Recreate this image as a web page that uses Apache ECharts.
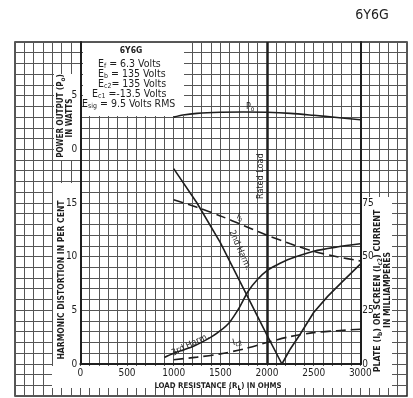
<!DOCTYPE html>
<html><head><meta charset="utf-8">
<script src="https://cdn.jsdelivr.net/npm/echarts@6/dist/echarts.min.js"></script>
<style>html,body{margin:0;padding:0;background:#fff}#c{width:413px;height:398px}</style>
</head><body><div id="c"></div>
<script>
// ---------------- data ----------------
const poOhms  = [1000,1100,1250,1500,1750,2000,2250,2500,2750,3000];
const poWatts = [3.0,3.2,3.35,3.45,3.48,3.45,3.35,3.17,2.97,2.75];
const h2Ohms  = [1000,1250,1500,1750,2000,2160,2250,2350,2500,2650,2800,3000];
const h2Pct   = [18.2,15.0,11.3,7.0,2.7,0,1.4,2.7,4.8,6.3,7.6,9.3];
const h3Ohms  = [900,1000,1200,1400,1500,1600,1700,1800,1900,2000,2100,2250,2500,2750,3000];
const h3Pct   = [0.6,1.0,1.6,2.5,3.1,3.9,5.2,6.8,7.9,8.7,9.2,9.8,10.5,10.9,11.2];
const ibOhms  = [1000,1250,1500,1750,2000,2250,2500,2750,3000];
const ibMa    = [76.5,73,69,64.5,60,56,52.5,50,48];
const ic2Ohms = [1000,1250,1500,1750,2000,2250,2500,2750,3000];
const ic2Ma   = [2,3.2,4.7,7,10,12.8,14.6,15.5,16.2];
const ratedLoad = 2000;
const resTicks     = [0,500,1000,1500,2000,2500,3000];
const distTicks    = [0,5,10,15];
const powerTicks   = [0,5];
const currentTicks = [0,25,50,75];

// ---------------- styling ----------------
const FONT = '"Liberation Sans Narrow","DejaVu Sans Condensed","Arial Narrow",sans-serif';
const INK = '#1e1e1e';
const pair = (xs, ys) => xs.map((x, i) => [x, ys[i]]);

const chart = echarts.init(document.getElementById('c'), null, {renderer: 'canvas'});
const paperLine = {show: true, lineStyle: {color: '#555', width: 1}};
const hidden = {show: false};

chart.setOption({
  animation: false,
  grid: [
    {left: 15, top: 42, width: 392, height: 354, show: true, borderColor: '#222', borderWidth: 1.5, backgroundColor: 'transparent'},
    {left: 80.33, top: 42, width: 280, height: 322}
  ],
  xAxis: [
    {gridIndex: 0, type: 'value', min: -700, max: 3500, interval: 100, axisLine: hidden, axisTick: hidden, axisLabel: hidden, splitLine: paperLine, z: 0},
    {gridIndex: 1, type: 'value', min: resTicks[0], max: resTicks[resTicks.length - 1], interval: resTicks[1] - resTicks[0],
     axisLine: {show: true, onZero: false, lineStyle: {color: INK, width: 2}}, axisTick: hidden, splitLine: hidden,
     axisLabel: {margin: 4, fontSize: 10, fontFamily: FONT, color: INK, formatter: v => resTicks.includes(v) ? String(v) : ''}, z: 3}
  ],
  yAxis: [
    {gridIndex: 0, type: 'value', min: -3, max: 30, interval: 1, axisLine: hidden, axisTick: hidden, axisLabel: hidden, splitLine: paperLine, z: 0},
    {gridIndex: 1, type: 'value', position: 'left', min: 0, max: 30, interval: 5,
     axisLine: {show: true, onZero: false, lineStyle: {color: INK, width: 2}}, axisTick: hidden, splitLine: hidden,
     axisLabel: {margin: 3, fontSize: 10, fontFamily: FONT, color: INK, formatter: v => distTicks.includes(v) ? String(v) : ''}, z: 3},
    {gridIndex: 1, type: 'value', position: 'left', min: -20, max: 10, interval: 5,
     axisLine: hidden, axisTick: hidden, splitLine: hidden,
     axisLabel: {margin: 3, fontSize: 10, fontFamily: FONT, color: INK, formatter: v => powerTicks.includes(v) ? String(v) : ''}, z: 3},
    {gridIndex: 1, type: 'value', position: 'right', min: 0, max: 150, interval: 25,
     axisLine: {show: true, onZero: false, lineStyle: {color: INK, width: 2}}, axisTick: hidden, splitLine: hidden,
     axisLabel: {margin: 2, fontSize: 10, fontFamily: FONT, color: INK, formatter: v => currentTicks.includes(v) ? String(v) : ''}, z: 3}
  ],
  series: [
    {name: 'Po', type: 'line', xAxisIndex: 1, yAxisIndex: 2, data: pair(poOhms, poWatts), smooth: 0.3, symbol: 'none', z: 5,
     lineStyle: {color: INK, width: 1.6}},
    {name: '2nd Harm', type: 'line', xAxisIndex: 1, yAxisIndex: 1, data: pair(h2Ohms, h2Pct), smooth: false, symbol: 'none', z: 5,
     lineStyle: {color: INK, width: 1.6},
     markLine: {silent: true, symbol: 'none', label: {show: false}, lineStyle: {color: INK, width: 2.5, type: 'solid'}, data: [{xAxis: ratedLoad}]}},
    {name: '3rd Harm', type: 'line', xAxisIndex: 1, yAxisIndex: 1, data: pair(h3Ohms, h3Pct), smooth: 0.3, symbol: 'none', z: 5,
     lineStyle: {color: INK, width: 1.6}},
    {name: 'Ib', type: 'line', xAxisIndex: 1, yAxisIndex: 3, data: pair(ibOhms, ibMa), smooth: 0.3, symbol: 'none', z: 5,
     lineStyle: {color: INK, width: 1.6, type: [10, 5]}},
    {name: 'Ic2', type: 'line', xAxisIndex: 1, yAxisIndex: 3, data: pair(ic2Ohms, ic2Ma), smooth: 0.3, symbol: 'none', z: 5,
     lineStyle: {color: INK, width: 1.6, type: [10, 5]}}
  ]
});

// ---------------- annotations ----------------
const P = (si, x, y) => chart.convertToPixel({seriesIndex: si}, [x, y]);
const SUB = {fontSize: 6.5, fontFamily: FONT, fill: INK, color: INK, verticalAlign: 'bottom', lineHeight: 12, padding: [0, 0, 0, 0]};
function txt(x, y, text, o) {
  o = o || {};
  const size = o.size || 9, weight = o.weight || 'normal';
  return {
    type: 'text', x: x, y: y, rotation: o.rot || 0, z: 10,
    style: {
      text: text, font: weight + ' ' + size + 'px ' + FONT, fill: INK,
      textAlign: o.align || 'center', align: o.align || 'center',
      textVerticalAlign: 'middle', verticalAlign: 'middle',
      rich: {s: Object.assign({}, SUB, {fontSize: o.sub || 6.5, fontWeight: weight}),
             n: {fontSize: size, fontFamily: FONT, fontWeight: weight, lineHeight: 12, fill: INK}}
    }
  };
}
const rect = (x, y, w, h) => ({type: 'rect', z: 1, shape: {x: x, y: y, width: w, height: h}, style: {fill: '#fff'}});

const poPt = P(0, 1820, 3.95);
const rlPt = P(1, 1930, 17.5);
const ibPt = P(3, 1711, 68.5);
const h2Pt = P(1, 1711, 10.6);
const h3Pt = P(2, 1180, 1.8);
const ic2Pt = P(4, 1680, 10.3);

const L = {align: 'left', size: 10.5, sub: 7};
const els = [
  rect(83, 43, 101, 73),
  rect(54, 74, 26, 86),
  rect(53, 183, 27, 185),
  rect(52, 366, 340, 22),
  rect(362, 197, 30, 191),
  // title
  txt(372, 15, '6Y6G', {size: 14}),
  // legend box
  txt(131, 51, '6Y6G', {size: 8.5, weight: 'bold'}),
  txt(98, 64, '{n|E}{s|f}{n| = 6.3 Volts}', L),
  txt(98, 74, '{n|E}{s|b}{n| = 135 Volts}', L),
  txt(98, 84, '{n|E}{s|c2}{n|= 135 Volts}', L),
  txt(92, 94, '{n|E}{s|c1}{n| =-13.5 Volts}', L),
  txt(82, 104, '{n|E}{s|sig}{n| = 9.5 Volts RMS}', L),
  // axis titles
  txt(61, 116, '{n|POWER OUTPUT (P}{s|o}{n|)}', {size: 8, weight: 'bold', rot: Math.PI / 2}),
  txt(70, 118, 'IN WATTS', {size: 8, weight: 'bold', rot: Math.PI / 2}),
  txt(62, 280, 'HARMONIC DISTORTION IN PER CENT', {size: 8.5, weight: 'bold', rot: Math.PI / 2}),
  txt(377.5, 291, '{n|PLATE (I}{s|b}{n|) OR SCREEN (I}{s|c2}{n|) CURRENT}', {size: 8.8, weight: 'bold', rot: Math.PI / 2}),
  txt(387.5, 290, 'IN MILLIAMPERES', {size: 8.5, weight: 'bold', rot: Math.PI / 2}),
  txt(218, 386, '{n|LOAD RESISTANCE (R}{s|L}{n|) IN OHMS}', {size: 7.8, weight: 'bold'}),
  // curve labels
  txt(poPt[0], poPt[1], '{n|P}{s|o}'),
  txt(rlPt[0], rlPt[1], 'Rated Load', {rot: Math.PI / 2}),
  txt(ibPt[0], ibPt[1], '{n|I}{s|b}', {rot: -0.38}),
  txt(h2Pt[0], h2Pt[1], '2nd Harm.', {rot: -1.15}),
  txt(h3Pt[0], h3Pt[1], '3rd Harm.', {rot: 0.45}),
  txt(ic2Pt[0], ic2Pt[1], '{n|I}{s|c2}', {rot: 0.25})
];
chart.setOption({graphic: {elements: els}});
</script></body></html>
